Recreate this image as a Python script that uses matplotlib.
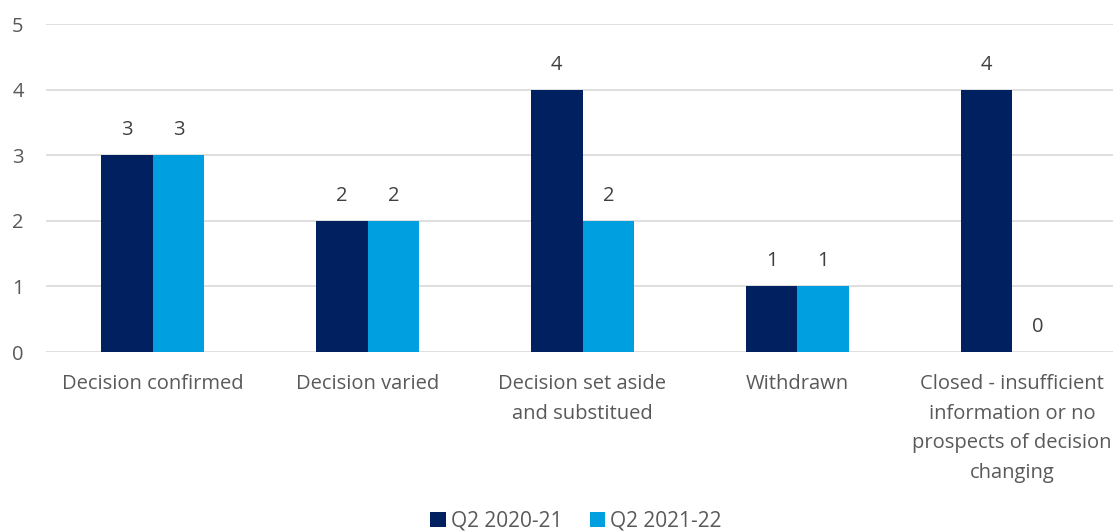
import numpy as np
import matplotlib.pyplot as plt

categories = ['Decision confirmed', 'Decision varied', 'Decision set aside\nand substitued',
              'Withdrawn', 'Closed - insufficient\ninformation or no\nprospects of decision\nchanging']
q2_2020 = [3, 2, 4, 1, 4]
q2_2021 = [3, 2, 2, 1, 0]
series_names = ['Q2 2020-21', 'Q2 2021-22']

plt.rcParams['font.family'] = ['Open Sans', 'DejaVu Sans']
grey = '#595959'
fs = 14.5

fig = plt.figure(figsize=(11.13, 5.32), dpi=100)
ax = fig.add_axes([45.5 / 1113, 180 / 532, 1074 / 1113, 328 / 532])

x = np.arange(len(categories))
w = 0.24
b1 = ax.bar(x - w / 2, q2_2020, w, color='#002060', label=series_names[0], zorder=3)
b2 = ax.bar(x + w / 2, q2_2021, w, color='#00A0E0', label=series_names[1], zorder=3)

for bars in (b1, b2):
    for r in bars:
        ax.annotate(f'{int(r.get_height())}', (r.get_x() + r.get_width() / 2, r.get_height()),
                    xytext=(0, 18), textcoords='offset points', ha='center', va='center',
                    fontsize=fs, color='#404040')

ax.set_xlim(-0.5, 4.5)
ax.set_ylim(0, 5)
ax.set_yticks(range(6))
ax.set_xticks(x)
ax.set_xticklabels(categories, linespacing=1.63)
ax.tick_params(axis='both', length=0, labelsize=fs, labelcolor=grey)
ax.tick_params(axis='y', pad=24)
ax.tick_params(axis='x', pad=16)
for lab in ax.get_yticklabels():
    lab.set_horizontalalignment('left')
ax.grid(axis='y', color='#d9d9d9', linewidth=1.2, zorder=0)
for s in ax.spines.values():
    s.set_visible(False)

fig.legend(handles=[b1, b2], loc='center', bbox_to_anchor=(576 / 1113, 1 - 521 / 532), ncol=2,
           frameon=False, fontsize=15, labelcolor=grey, handlelength=0.75, handleheight=0.75,
           handletextpad=0.25, columnspacing=1.3)

fig.savefig('out.png', dpi=100)
